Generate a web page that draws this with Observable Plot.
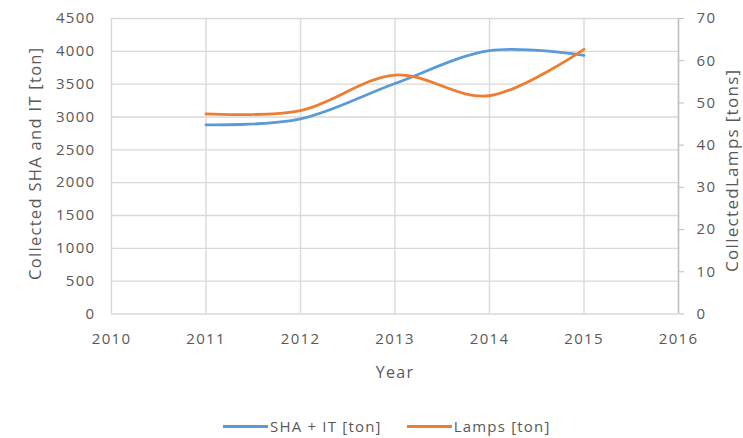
<!DOCTYPE html>
<html>
<head>
<meta charset="utf-8">
<script src="https://cdn.jsdelivr.net/npm/d3@7"></script>
<script src="https://cdn.jsdelivr.net/npm/@observablehq/plot@0.6"></script>
<style>
  html, body { margin: 0; background: #fff; font-family: "Open Sans", sans-serif; color: #595959; }
  #chart svg { display: block; }
  #chart svg text { letter-spacing: 1.3px; }
  #legend { display: flex; align-items: center; height: 20px; line-height: 20px; margin-top: 6px; padding-left: 223px; font-size: 15px; letter-spacing: 1.2px; color: #595959; }
  #legend .item { display: flex; align-items: center; margin-right: 25px; }
  #legend .sw { width: 45px; height: 3px; margin-right: 2px; }
</style>
</head>
<body>
<div id="chart"></div>
<div id="legend"></div>
<script>
const years = [2011, 2012, 2013, 2014, 2015];
const shaIt = [2880, 2970, 3510, 4010, 3940];
const lamps = [47.4, 48.2, 56.6, 51.7, 62.7];
const xTicks = [2010, 2011, 2012, 2013, 2014, 2015, 2016];
const leftTicks = [0, 500, 1000, 1500, 2000, 2500, 3000, 3500, 4000, 4500];
const rightTicks = [0, 10, 20, 30, 40, 50, 60, 70];
const seriesNames = ["SHA + IT [ton]", "Lamps [ton]"];
const colors = ["#5b9bd5", "#ed7d31"];
const leftTitle = "Collected SHA and IT [ton]";
const rightTitle = "CollectedLamps [tons]";
const xTitle = "Year";

const leftMax = leftTicks[leftTicks.length - 1];
const rightMax = rightTicks[rightTicks.length - 1];
const k = leftMax / rightMax;

const rows = years.flatMap((y, i) => [
  {year: y, value: shaIt[i], series: seriesNames[0]},
  {year: y, value: lamps[i] * k, series: seriesNames[1]}
]);

const chart = Plot.plot({
  width: 743,
  height: 410,
  marginTop: 18,
  marginBottom: 96.5,
  marginLeft: 111,
  marginRight: 65,
  style: {fontFamily: "Open Sans, sans-serif", fontSize: "15px", color: "#595959", background: "#fff"},
  x: {domain: [xTicks[0], xTicks[xTicks.length - 1]]},
  y: {domain: [0, leftMax]},
  color: {domain: seriesNames, range: colors},
  marks: [
    Plot.gridY(leftTicks, {stroke: "#d9d9d9", strokeOpacity: 1, strokeWidth: 1.4}),
    Plot.gridX(xTicks, {stroke: "#d9d9d9", strokeOpacity: 1, strokeWidth: 1.4}),
    Plot.ruleX([xTicks[xTicks.length - 1]], {stroke: "#bfbfbf", strokeWidth: 1.4}),
    Plot.axisX(xTicks, {tickSize: 0, tickPadding: 19, tickFormat: d => String(d), label: null, fontSize: 15}),
    Plot.axisY(leftTicks, {anchor: "left", tickSize: 0, tickPadding: 16, tickFormat: d => String(d), label: null, fontSize: 15}),
    Plot.axisY(rightTicks.map(v => v * k), {anchor: "right", tickSize: 5, tickPadding: 13, stroke: "#bfbfbf",
      tickFormat: d => String(Math.round(d / k)), label: null, fontSize: 15}),
    Plot.line(rows, {x: "year", y: "value", z: "series", stroke: "series", strokeWidth: 2.8, curve: "cardinal", tension: 0}),
    Plot.text([leftTitle], {frameAnchor: "left", textAnchor: "middle", dx: -76, dy: -3, rotate: -90, fontSize: 16.5, fill: "#595959"}),
    Plot.text([rightTitle], {frameAnchor: "right", textAnchor: "middle", dx: 54, dy: 4, rotate: -90, fontSize: 17, fill: "#595959"}),
    Plot.text([xTitle], {frameAnchor: "bottom", dy: 63.5, fontSize: 16, fill: "#595959"})
  ]
});
document.getElementById("chart").appendChild(chart);

const legend = document.getElementById("legend");
seriesNames.forEach((name, i) => {
  const item = document.createElement("div");
  item.className = "item";
  const sw = document.createElement("div");
  sw.className = "sw";
  sw.style.background = colors[i];
  const t = document.createElement("span");
  t.textContent = name;
  item.appendChild(sw);
  item.appendChild(t);
  legend.appendChild(item);
});
</script>
</body>
</html>
